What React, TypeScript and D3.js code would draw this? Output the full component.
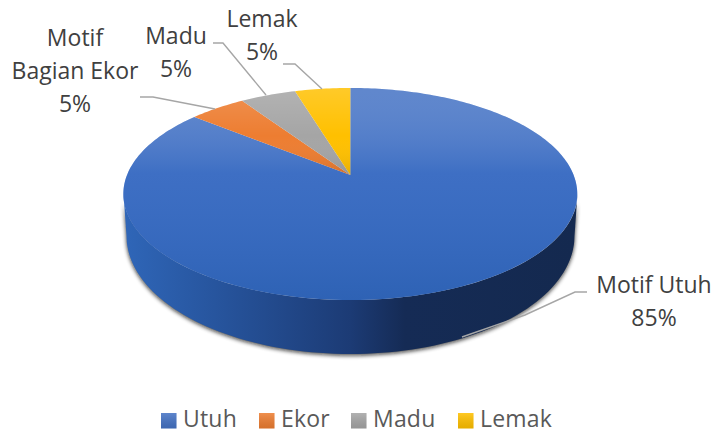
import React from "react";
import * as d3 from "d3";

const categories = ["Utuh", "Ekor", "Madu", "Lemak"];
const values = [85, 5, 5, 5];
const labelLines = [["Motif Utuh", "85%"], ["Motif", "Bagian Ekor", "5%"], ["Madu", "5%"], ["Lemak", "5%"]];
const colors = ["#4472c4", "#ed7d31", "#a5a5a5", "#ffc000"];

const W = 713, H = 430;
const apex = { x: 350.3, y: 175 };
const k = 0.179, R = 223.3, S = 102.6, warp = 0.065;
const top = { cx: 350.5, cy: 194, rx: 227, ry: 106 };
const base = { cx: 350.5, cy: 236, rx: 224, ry: 118 };

// perspective projection of a pie angle onto the tilted disc
const project = (a0: number): [number, number] => {
  const a = a0 - warp * Math.sin(a0);
  const u = Math.sin(a), v = Math.cos(a), w = 1 + k * v;
  return [apex.x + (R * u) / w, apex.y - (S * v) / w];
};
const line = d3.line();
const arcs = d3.pie<number>().sort(null)(values);

const wedge = (s: number, e: number) => {
  const n = Math.max(2, Math.ceil((e - s) / 0.02));
  const pts = d3.range(n + 1).map((i) => project(s + ((e - s) * i) / n));
  return line([[apex.x, apex.y], ...pts]) + "Z";
};

const ell = (o: typeof top, a: number): [number, number] => [o.cx + o.rx * Math.cos(a), o.cy + o.ry * Math.sin(a)];
const sideAngles = d3.range(0, 181, 2).map((d) => (d * Math.PI) / 180);
const sidePath =
  line([
    ...sideAngles.map((a) => ell(top, a)),
    ...sideAngles.slice().reverse().map((a) => ell(base, a)),
  ]) + "Z";

const leaders: [number, number][][] = [
  [[587, 292], [575, 292], [525, 315], [462, 337]],
  [[140, 97], [153, 97], [215, 109]],
  [[213, 43], [223, 43], [266, 95]],
  [[283, 64], [295, 64], [322, 89]],
];
const labelPos = [
  { x: 654, y: 293 },
  { x: 75, y: 46 },
  { x: 176, y: 44 },
  { x: 262, y: 27 },
];
const legendPos = [
  { sx: 161, tx: 183 },
  { sx: 259, tx: 281 },
  { sx: 351, tx: 373 },
  { sx: 458, tx: 480 },
];
const font = "'Open Sans', sans-serif";

export default function App() {
  return (
    <svg width={W} height={H} style={{ position: "absolute", left: 0, top: 0 }} fontFamily={font}>
      <defs>
        <linearGradient id="side" gradientUnits="userSpaceOnUse" x1={124} x2={577} y1={0} y2={0}>
          <stop offset="0" stopColor="#2f66b8" />
          <stop offset="0.2" stopColor="#27559e" />
          <stop offset="0.5" stopColor="#1c3b75" />
          <stop offset="0.62" stopColor="#152b55" />
          <stop offset="1" stopColor="#14294f" />
        </linearGradient>
        <linearGradient id="sheen" gradientUnits="userSpaceOnUse" x1={0} x2={0} y1={88} y2={300}>
          <stop offset="0" stopColor="#fff" stopOpacity={0.15} />
          <stop offset="0.4" stopColor="#3068c4" stopOpacity={0.3} />
          <stop offset="1" stopColor="#1c55a8" stopOpacity={0.55} />
        </linearGradient>
        <linearGradient id="wedgeSheen" gradientUnits="userSpaceOnUse" x1={0} x2={0} y1={88} y2={175}>
          <stop offset="0" stopColor="#fff" stopOpacity={0.16} />
          <stop offset="0.55" stopColor="#fff" stopOpacity={0} />
          <stop offset="1" stopColor="#000" stopOpacity={0.1} />
        </linearGradient>
        <linearGradient id="leg" x1="0" x2="0" y1="0" y2="1">
          <stop offset="0" stopColor="#fff" stopOpacity={0.14} />
          <stop offset="1" stopColor="#000" stopOpacity={0.1} />
        </linearGradient>
        <filter id="blur" x="-5%" y="-10%" width="110%" height="125%">
          <feGaussianBlur stdDeviation="2" />
        </filter>
      </defs>
      <path d={sidePath} fill="#111" opacity={0.8} filter="url(#blur)" transform="translate(0,1.5)" />
      <path d={sidePath} fill="url(#side)" />
      {arcs.map((a, i) => (
        <path key={i} d={wedge(a.startAngle, a.endAngle)} fill={colors[i]} />
      ))}
      {arcs.map((a, i) => (
        <path key={i} d={wedge(a.startAngle, a.endAngle)} fill={i === 0 ? "url(#sheen)" : "url(#wedgeSheen)"} />
      ))}
      {leaders.map((l, i) => (
        <path key={i} d={line(l) ?? ""} fill="none" stroke="#a6a6a6" strokeWidth={1.4} />
      ))}
      {labelLines.map((ls, i) =>
        ls.map((t, j) => (
          <text key={j} x={labelPos[i].x} y={labelPos[i].y + j * 33} textAnchor="middle" fontSize={23} fill="#404040">
            {t}
          </text>
        ))
      )}
      {categories.map((c, i) => (
        <g key={c}>
          <rect x={legendPos[i].sx} y={413} width={15.5} height={15.5} fill={colors[i]} />
          <rect x={legendPos[i].sx} y={413} width={15.5} height={15.5} fill="url(#leg)" />
          <text x={legendPos[i].tx} y={427} fontSize={23} fill="#595959" letterSpacing={0.2}>
            {c}
          </text>
        </g>
      ))}
    </svg>
  );
}
